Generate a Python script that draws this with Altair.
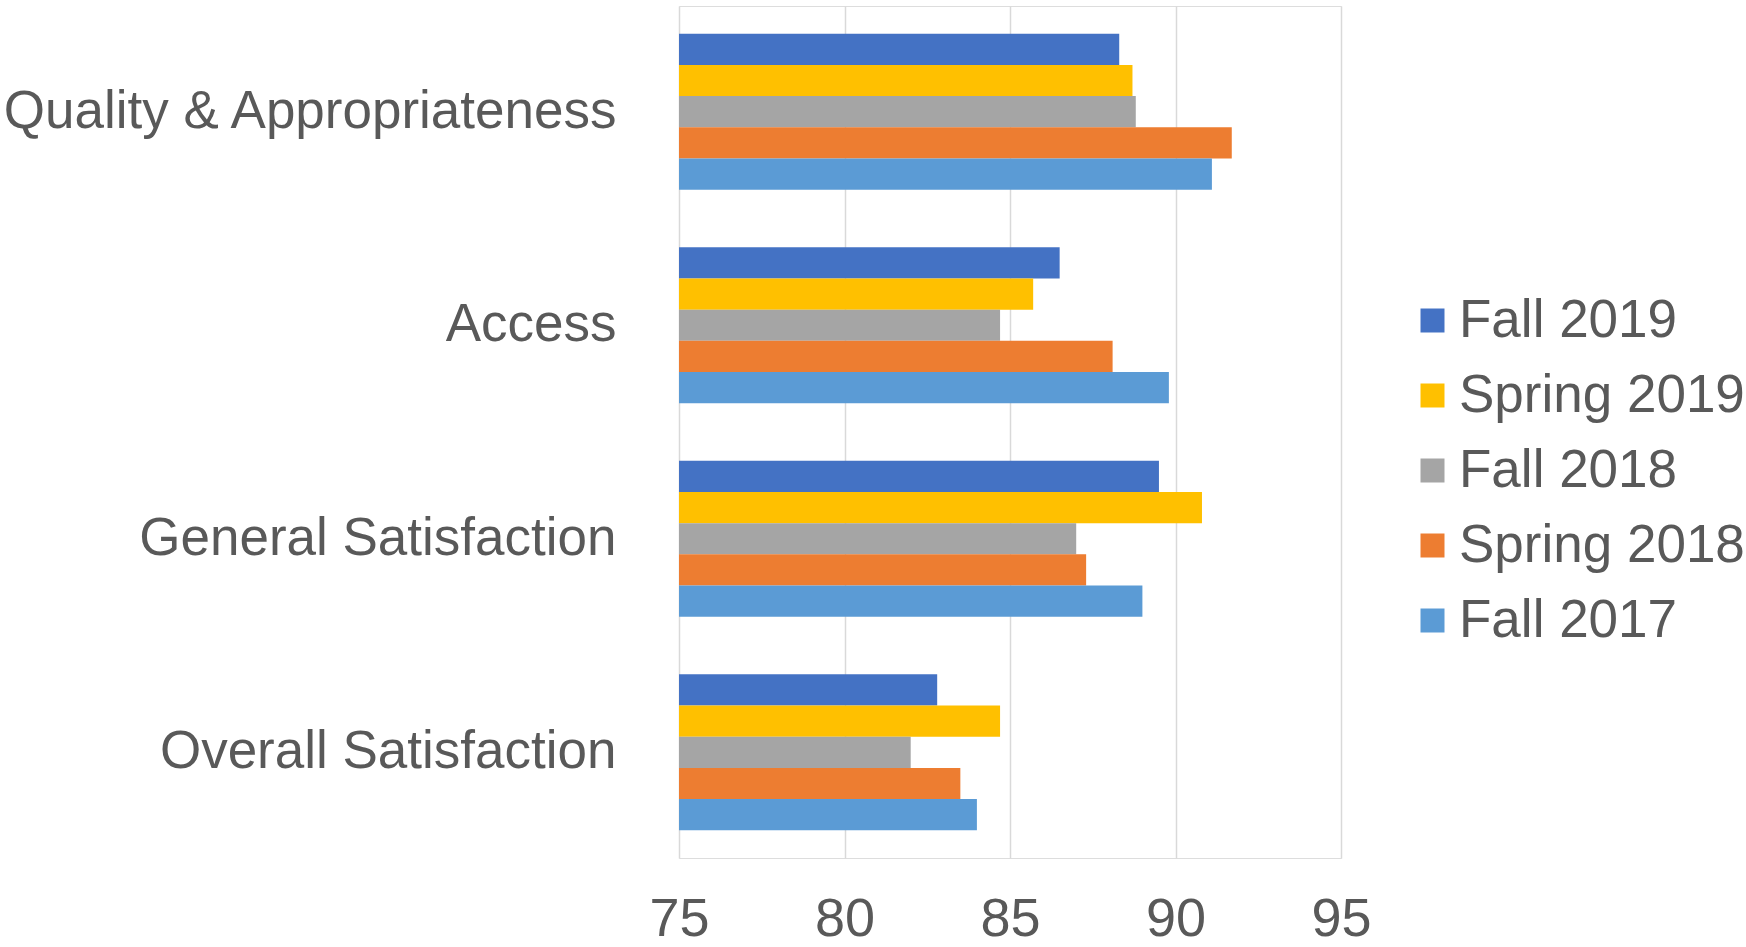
import altair as alt
import pandas as pd

# Survey satisfaction scores by category and term
categories = [
    "Quality & Appropriateness",
    "Access",
    "General Satisfaction",
    "Overall Satisfaction",
]
terms = ["Fall 2019", "Spring 2019", "Fall 2018", "Spring 2018", "Fall 2017"]
term_colors = ["#4472c4", "#ffc000", "#a5a5a5", "#ed7d31", "#5b9bd5"]

fall_2019 = [88.3, 86.5, 89.5, 82.8]
spring_2019 = [88.7, 85.7, 90.8, 84.7]
fall_2018 = [88.8, 84.7, 87.0, 82.0]
spring_2018 = [91.7, 88.1, 87.3, 83.5]
fall_2017 = [91.1, 89.8, 89.0, 84.0]

x_ticks = [75, 80, 85, 90, 95]

series = [fall_2019, spring_2019, fall_2018, spring_2018, fall_2017]
rows = []
for term, values in zip(terms, series):
    for cat, v in zip(categories, values):
        rows.append({"category": cat, "term": term, "score": v})
df = pd.DataFrame(rows)

FONT = "Liberation Sans"
TEXT = "#595959"

chart = (
    alt.Chart(df)
    .mark_bar()
    .encode(
        y=alt.Y(
            "category:N",
            sort=categories,
            title=None,
            scale=alt.Scale(paddingInner=0.27, paddingOuter=0.13),
            axis=alt.Axis(
                labelFont=FONT,
                labelFontSize=53,
                labelColor=TEXT,
                labelPadding=63,
                labelLimit=1000,
                ticks=False,
                domain=False,
                grid=False,
            ),
        ),
        yOffset=alt.YOffset("term:N", sort=terms, scale=alt.Scale(paddingInner=0, paddingOuter=0)),
        x=alt.X(
            "score:Q",
            title=None,
            scale=alt.Scale(domain=[75, 95], zero=False, nice=False),
            axis=alt.Axis(
                values=x_ticks,
                labelFont=FONT,
                labelFontSize=54,
                labelColor=TEXT,
                labelPadding=34,
                labelFlush=False,
                ticks=False,
                domain=False,
                grid=True,
                gridColor="#d9d9d9",
                gridWidth=1.5,
            ),
        ),
        x2=alt.datum(75),
        color=alt.Color(
            "term:N",
            sort=terms,
            scale=alt.Scale(domain=terms, range=term_colors),
            legend=alt.Legend(
                title=None,
                orient="none",
                legendX=727,
                legendY=288,
                symbolType="square",
                symbolSize=576,
                symbolStrokeWidth=0,
                labelFont=FONT,
                labelFontSize=53,
                labelColor=TEXT,
                labelLimit=1000,
                labelOffset=0,
                rowPadding=21,
                padding=0,
            ),
        ),
    )
    .properties(
        width=662,
        height=852,
        autosize=alt.AutoSizeParams(type="none"),
        padding={"left": 679, "top": 6, "right": 405, "bottom": 89},
    )
    .configure_view(strokeWidth=0)
    .configure_axis(domain=False)
    .configure(background="white")
)

chart.save("out.html", embed_options={"renderer": "svg", "actions": False})
